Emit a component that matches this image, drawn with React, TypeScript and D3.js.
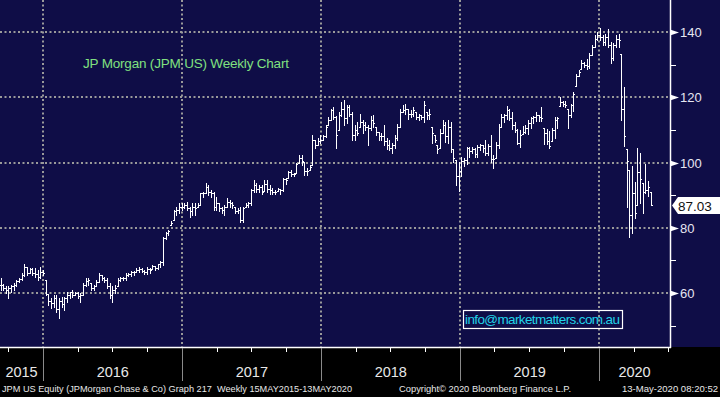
import { useEffect, useRef } from "react";
import * as d3 from "d3";

// weekly bars, [high, low, close], first bar is the week ending 11 Sep 2015
const firstWeek = new Date(2015, 8, 11);

const bars2015 = [
  [64.5, 61, 62.5], [62.7, 61, 61.5], [62, 59.9, 61], [62, 58.6, 61.5], [62.5, 60.4, 62], [63, 61, 62.5],
  [64, 62, 63.8], [64.5, 63.5, 64.2], [66, 64, 65.5], [68.8, 65.3, 68], [68, 65.5, 66.2], [67.8, 66, 67.5],
  [67.6, 65.5, 66], [67.8, 65, 65.8], [67, 64, 65], [68, 64.5, 66.5],
];

const bars2016 = [
  [67, 65.5, 66.2], [64, 59.4, 59.8], [59.8, 56.3, 57.5], [58.4, 55.3, 57], [59.4, 55.8, 58.5], [59.4, 54.3, 55],
  [58.4, 52.4, 57.5], [58.9, 55.8, 56.5], [58.9, 54.9, 58.5], [60.4, 57.3, 59.5], [60.4, 58.4, 60.2], [60.9, 58.9, 59.5],
  [60.4, 59.4, 60], [60.4, 58.4, 59], [59.9, 57.3, 59.5], [63, 59.4, 62.5], [64.5, 62, 63.8], [64.5, 62.5, 64],
  [63, 61, 61.5], [62.5, 61, 62], [64, 62, 63.5], [66, 63.5, 65.5], [65.5, 64, 64.5], [65, 63.5, 64],
  [64.5, 61.4, 62], [63, 58.4, 59.5], [62, 57.3, 61], [62.5, 60, 61.5], [64.5, 62, 64], [64.8, 63.8, 64.5],
  [65, 64, 64.5], [66, 64, 65.5], [66, 65.3, 65.8], [66.6, 65.3, 66.3], [66.8, 65.5, 66.5], [67.6, 66.3, 67],
  [68, 66.5, 67.5], [67.6, 66.3, 66.8], [67, 65.8, 66.5], [68, 65.8, 67.5], [67.6, 66, 67], [68.5, 67.5, 68.2],
  [68.3, 67, 67.8], [69, 67.5, 68.8], [69.8, 68, 69.5], [77.2, 68.5, 77], [78.8, 76.7, 78.5], [79.3, 77.8, 79],
  [82.2, 80.8, 81.5], [85.4, 82.4, 85], [86.5, 83.9, 85.5], [87.5, 84.4, 86.5], [87.5, 85.5, 86.3],
];

const bars2017 = [
  [87.5, 86, 87], [88, 85.5, 86], [86.5, 83.4, 85], [87.5, 84, 86.5], [87.5, 84, 86], [87.5, 86.5, 87],
  [90.8, 87, 90.5], [91, 89.5, 90.5], [93.8, 90.6, 92.5], [93, 90, 91], [91.5, 89.5, 90.5], [91, 85.4, 86.5],
  [89.5, 85.4, 87.5], [87.5, 85, 86], [86.5, 84.5, 85.5], [87, 84, 86.5], [89, 86.5, 88], [88.5, 86.5, 87.5],
  [88, 86, 87], [86.5, 84.5, 85], [86, 84.5, 85.5], [86.5, 81.8, 82.5], [86.5, 81.8, 86], [87.5, 86.5, 87],
  [88, 86.5, 87.5], [92, 87, 91.5], [94.7, 91, 93], [93.7, 91, 92], [93.2, 91, 92.5], [93, 90.3, 91],
  [94.7, 91.2, 93.5], [94.5, 91, 92], [93.2, 90.2, 91.5], [92.2, 90.2, 91], [91.7, 90.2, 91], [92.2, 91.2, 91.8],
  [92, 90.4, 91.5], [95.3, 91.2, 95], [95.3, 93.3, 94.5], [97.5, 95.3, 97], [97.8, 95.8, 96.5], [96.8, 95.8, 96.5],
  [99.8, 96.8, 99.5], [102.3, 99.8, 101.5], [102.3, 99.3, 100.5], [100.3, 96.3, 97.5], [98.3, 96.3, 97.5], [99.3, 97.8, 98.5],
  [108.4, 99.3, 107], [106.9, 104.3, 105.5], [107.4, 105.4, 106.5], [108.4, 105.9, 107],
];

const bars2018 = [
  [108.4, 106.9, 108], [111.4, 107.9, 111], [113.9, 111.4, 113], [116.5, 112.9, 116], [117, 113.4, 114], [114.4, 104.3, 108.5],
  [115.5, 109.9, 114.5], [118.5, 114.4, 116.5], [119.3, 111.4, 113.5], [117.5, 112, 117], [117.5, 114.4, 115], [115.5, 106.9, 108.5],
  [111.4, 106.9, 110], [112.4, 108.4, 109], [115, 110.9, 112.5], [113, 108.9, 111.5], [112.4, 109.9, 111], [111.4, 105.4, 110.5],
  [114.4, 109.9, 113], [114.6, 110.9, 112], [110.9, 108.4, 109.5], [109.4, 106.9, 108], [108.9, 106.9, 108], [111.4, 105.4, 106.5],
  [107.5, 104, 105.5], [106.9, 103.8, 104.5], [105.9, 102.8, 105.5], [108.4, 104.3, 107.5], [111.9, 106.9, 111], [116.5, 110.9, 115.5],
  [117.5, 115.5, 116], [118, 115, 116.5], [116.5, 113.4, 115], [116, 114, 115], [117, 114.4, 116], [115.5, 113.4, 114],
  [115, 112.9, 114.5], [114.5, 113.4, 114], [119, 112.4, 117.5], [115.5, 113.4, 114.5], [116.5, 113.4, 115], [110.9, 105.9, 109],
  [108.4, 106.4, 107], [105.4, 102.8, 104], [110.4, 104.3, 109], [112.9, 108.9, 111.5], [112.4, 106.4, 108], [112.9, 105.9, 111],
  [112.4, 103.3, 104], [104, 100.3, 101.5], [100.8, 93.2, 96], [100.3, 91.2, 97.5],
];

const bars2019 = [
  [101.8, 95.8, 100.5], [101.3, 98.8, 100.8], [104.8, 99.5, 104.5], [104.8, 101.8, 103.5], [104.8, 102.8, 104], [104.3, 101.8, 102.5],
  [105.3, 101.8, 104.8], [105.8, 103.8, 105.5], [105.3, 103.3, 104.5], [106.9, 102.3, 103], [105.8, 102.3, 105], [108.4, 100.3, 101],
  [102.3, 98.3, 101.2], [106.4, 101.3, 105.5], [111.9, 104.3, 111], [115, 110.9, 113.8], [115, 112.4, 114.5], [117.3, 113.4, 116],
  [116.5, 112.9, 113.5], [115.5, 110.4, 111.5], [112.4, 109.4, 110], [110.4, 105.6, 106], [109.9, 104.8, 108.5], [111.2, 108.6, 109.5],
  [111.4, 109.1, 110.5], [113, 108.6, 112], [113.8, 110.7, 113.5], [114.3, 112.2, 113.8], [115.4, 112.8, 114.5], [114.5, 112.8, 114],
  [116.9, 112.8, 113.5], [110.7, 105.6, 109], [110.2, 105.6, 106.5], [109.7, 104.5, 105], [110.7, 106.6, 110], [113.8, 107.6, 113],
  [113.8, 110.7, 113.5], [120, 117.4, 118.5], [119, 117.4, 118], [119, 116.9, 117.5], [116.4, 110.7, 114.5], [117.9, 113.8, 117.5],
  [121.5, 115.9, 121], [127.2, 123.6, 126.5], [128.2, 126.5, 127.8], [131.3, 128.8, 130.5], [130.8, 129.3, 130], [131.8, 128.8, 129.5],
  [133.5, 128.9, 133], [136, 132.9, 135.5], [139, 135.5, 138], [140, 137.5, 139],
];

const bars2020 = [
  [141.1, 137.5, 138.5], [139, 136, 137], [139.5, 136, 138.5], [141, 135.5, 136], [137, 130.4, 132], [136.5, 131.5, 136],
  [139, 135.5, 138], [139.3, 135.5, 137.5], [133.4, 113, 116.5], [123, 105, 108], [104, 86.5, 100.5], [97.6, 77.1, 84],
  [98.8, 78.4, 90.5], [93.9, 83, 84.5], [104.5, 87, 97], [103, 87.5, 95], [93.6, 84.5, 91], [99.6, 90.6, 91.5],
  [94.2, 89.8, 92.5], [91, 87, 87.03],
];

const priceTicks = [60, 80, 100, 120, 140];
const minorPriceTicks = [50, 70, 90, 110, 130];
const yearLabels = [2015, 2016, 2017, 2018, 2019, 2020];
const quarterMonths = [3, 6, 9];

const chartTitle = "JP Morgan (JPM US) Weekly Chart";
const watermark = "info@marketmatters.com.au";
const lastPriceLabel = "87.03";
const footerLeft = "JPM US Equity (JPMorgan Chase & Co) Graph 217  Weekly 15MAY2015-13MAY2020";
const footerMid = "Copyright\u00A9 2020 Bloomberg Finance L.P.";
const footerRight = "13-May-2020 08:20:52";

const NAVY = "#0f0d47";
const GRID = "#9a9a9a";
const NARROW = "'Liberation Sans Narrow', 'Arial Narrow', 'Liberation Sans', Arial, sans-serif";
const SANS = "'Liberation Sans', Arial, sans-serif";

export default function App() {
  const svgRef = useRef<SVGSVGElement>(null);

  useEffect(() => {
    const width = 720;
    const height = 397;
    const plotRight = 670;
    const plotBottom = 347;

    const svg = d3.select(svgRef.current);
    svg.selectAll("*").remove();

    const raw = [...bars2015, ...bars2016, ...bars2017, ...bars2018, ...bars2019, ...bars2020];
    const data = raw.map((b, i) => ({
      date: d3.timeDay.offset(firstWeek, 7 * i),
      high: b[0],
      low: b[1],
      close: b[2],
      prevClose: i === 0 ? b[2] : raw[i - 1][2],
    }));

    const x = d3.scaleTime()
      .domain([data[0].date, data[data.length - 1].date])
      .range([0.5, 650.5]);

    const y = d3.scaleLinear()
      .domain([60, 140])
      .range([293, 32]);

    // backgrounds
    svg.append("rect").attr("width", width).attr("height", height).attr("fill", "#000");
    svg.append("rect").attr("width", width).attr("height", plotBottom).attr("fill", NAVY);

    // dotted grid
    const grid = svg.append("g").attr("stroke", GRID).attr("stroke-width", 2).attr("stroke-dasharray", "2,2.5");
    grid.selectAll(".hgrid")
      .data(priceTicks)
      .join("line")
      .attr("x1", 0)
      .attr("x2", plotRight)
      .attr("y1", d => Math.round(y(d)))
      .attr("y2", d => Math.round(y(d)));

    const yearStarts = yearLabels.slice(1).map(yr => new Date(yr, 0, 1));
    grid.selectAll(".vgrid")
      .data(yearStarts)
      .join("line")
      .attr("x1", d => Math.round(x(d)))
      .attr("x2", d => Math.round(x(d)))
      .attr("y1", 0)
      .attr("y2", plotBottom);

    // title and watermark
    svg.append("text")
      .attr("x", 83)
      .attr("y", 68)
      .attr("font-family", SANS)
      .attr("font-size", 13.5)
      .attr("textLength", 206)
      .attr("fill", "#80e080")
      .text(chartTitle);

    svg.append("rect")
      .attr("x", 463.5)
      .attr("y", 310.5)
      .attr("width", 159)
      .attr("height", 18)
      .attr("fill", "none")
      .attr("stroke", "#fff")
      .attr("stroke-width", 1.2);

    svg.append("text")
      .attr("x", 465)
      .attr("y", 324)
      .attr("font-family", SANS)
      .attr("font-size", 13.5)
      .attr("textLength", 155)
      .attr("fill", "#22d3e8")
      .text(watermark);

    // price bars
    const snap = (v: number) => Math.round(v) + 0.5;
    svg.append("g")
      .selectAll("path")
      .data(data)
      .join("path")
      .attr("fill", "none")
      .attr("stroke", "#fff")
      .attr("stroke-width", 1)
      .attr("shape-rendering", "crispEdges")
      .attr("d", d => {
        const cx = snap(x(d.date));
        const open = Math.min(d.high, Math.max(d.low, d.prevClose));
        const yo = snap(y(open));
        const yc = snap(y(d.close));
        return `M${cx},${Math.round(y(d.high))}V${Math.round(y(d.low)) + 1}` +
          `M${cx - 1.5},${yo}H${cx}M${cx},${yc}H${cx + 1.5}`;
      });

    // right axis
    const axisR = svg.append("g");
    axisR.append("line")
      .attr("x1", plotRight + 0.5).attr("x2", plotRight + 0.5)
      .attr("y1", 0).attr("y2", plotBottom + 1)
      .attr("stroke", "#fff").attr("stroke-width", 1.5);

    axisR.selectAll(".minor")
      .data(minorPriceTicks)
      .join("line")
      .attr("x1", plotRight)
      .attr("x2", plotRight + 6)
      .attr("y1", d => Math.round(y(d)) + 0.5)
      .attr("y2", d => Math.round(y(d)) + 0.5)
      .attr("stroke", "#fff");

    axisR.selectAll(".arrow")
      .data(priceTicks)
      .join("path")
      .attr("d", d => {
        const yy = Math.round(y(d)) + 0.5;
        return `M${plotRight},${yy - 3}L${plotRight + 9},${yy}L${plotRight},${yy + 3}Z`;
      })
      .attr("fill", "#fff");

    axisR.selectAll(".lbl")
      .data(priceTicks)
      .join("text")
      .attr("x", plotRight + 10)
      .attr("y", d => y(d) + 5)
      .attr("font-family", SANS)
      .attr("font-size", 13)
      .attr("fill", "#e6e6f2")
      .text(d => d);

    // last price tag
    const last = data[data.length - 1];
    const yl = Math.round(y(last.close)) + 0.5;
    svg.append("path")
      .attr("d", `M${plotRight + 2},${yl}L${plotRight + 8},${yl - 8.5}H${width}V${yl + 8.5}H${plotRight + 8}Z`)
      .attr("fill", "#fff");
    svg.append("text")
      .attr("x", plotRight + 8)
      .attr("y", yl + 5)
      .attr("font-family", SANS)
      .attr("font-size", 13.5)
      .attr("fill", "#111")
      .text(lastPriceLabel);

    // bottom axis
    const axisB = svg.append("g");
    axisB.append("line")
      .attr("x1", 0).attr("x2", plotRight + 1)
      .attr("y1", plotBottom + 0.5).attr("y2", plotBottom + 0.5)
      .attr("stroke", "#fff").attr("stroke-width", 1.5);

    axisB.selectAll(".yearline")
      .data(yearStarts)
      .join("line")
      .attr("x1", d => Math.round(x(d)) + 0.5)
      .attr("x2", d => Math.round(x(d)) + 0.5)
      .attr("y1", plotBottom + 1)
      .attr("y2", 381)
      .attr("stroke", "#8a8a8a");

    const quarters = yearLabels.flatMap(yr => quarterMonths.map(m => new Date(yr, m, 1)))
      .filter(d => x(d) > 0 && x(d) < plotRight);
    axisB.selectAll(".qtick")
      .data(quarters)
      .join("line")
      .attr("x1", d => Math.round(x(d)) + 0.5)
      .attr("x2", d => Math.round(x(d)) + 0.5)
      .attr("y1", plotBottom + 1)
      .attr("y2", plotBottom + 5)
      .attr("stroke", "#fff");

    axisB.selectAll(".ylbl")
      .data(yearLabels)
      .join("text")
      .attr("x", yr => {
        const a = Math.max(0, x(new Date(yr, 0, 1)));
        const b = Math.min(plotRight, x(new Date(yr + 1, 0, 1)));
        return (a + b) / 2;
      })
      .attr("y", 377)
      .attr("text-anchor", "middle")
      .attr("font-family", NARROW)
      .attr("font-size", 14.5)
      .attr("fill", "#e8e8e8")
      .text(yr => yr);

    // footer
    const footer = [
      { text: footerLeft, x: 2, anchor: "start", len: 350 },
      { text: footerMid, x: 399, anchor: "start", len: 172 },
      { text: footerRight, x: 718, anchor: "end", len: 96 },
    ];
    svg.append("g")
      .selectAll("text")
      .data(footer)
      .join("text")
      .attr("x", d => d.x)
      .attr("y", 392)
      .attr("text-anchor", d => d.anchor)
      .attr("font-family", NARROW)
      .attr("font-size", 9.5)
      .attr("fill", "#e8e8e8")
      .attr("textLength", d => d.len)
      .attr("lengthAdjust", "spacingAndGlyphs")
      .style("white-space", "pre")
      .text(d => d.text);
  }, []);

  return (
    <div>
      <style>{`body { margin: 0; background: #000; }`}</style>
      <svg ref={svgRef} width={720} height={397} style={{ display: "block" }} />
    </div>
  );
}
